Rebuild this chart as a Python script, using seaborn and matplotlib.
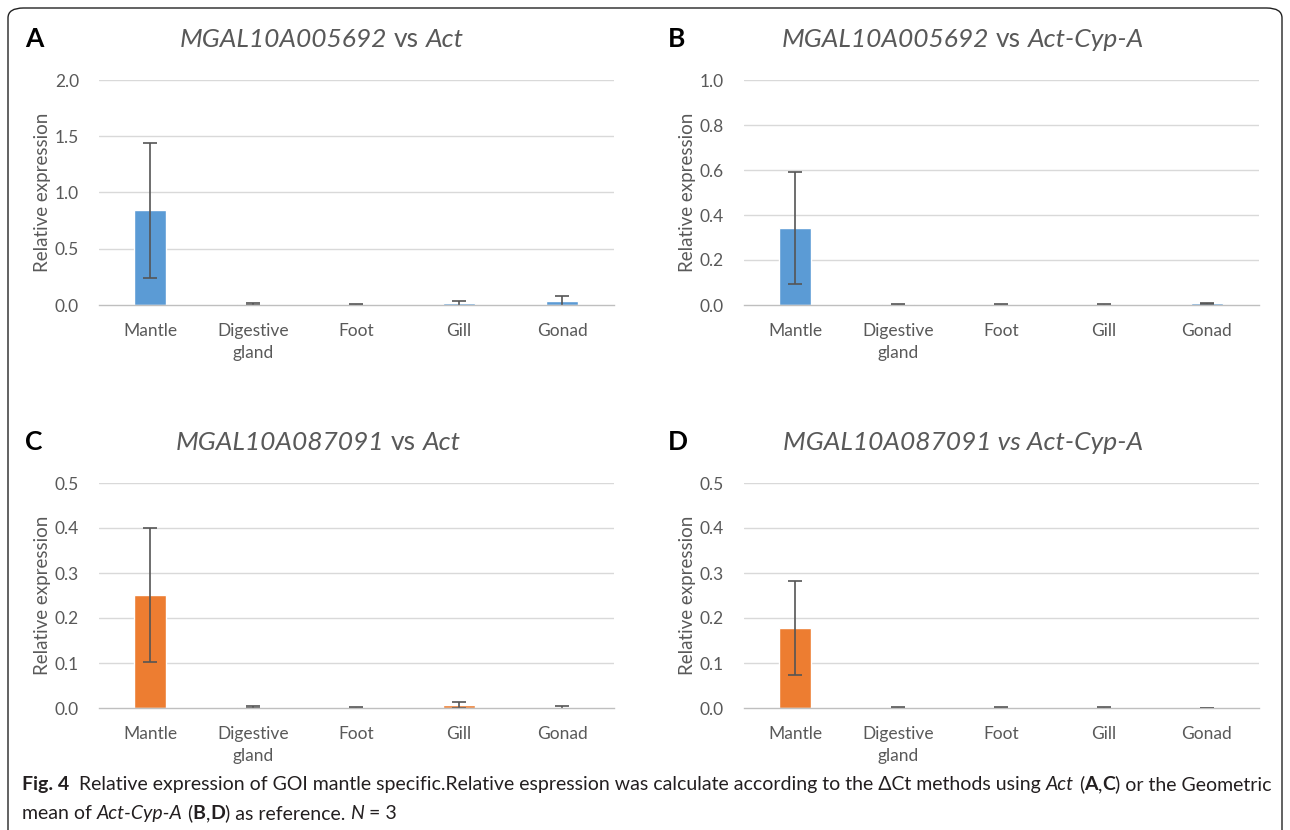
import numpy as np
import pandas as pd
import matplotlib
matplotlib.use("Agg")
import matplotlib.pyplot as plt
from matplotlib import font_manager
from matplotlib.patches import FancyBboxPatch
from matplotlib.transforms import IdentityTransform
import seaborn as sns

# ---------------- data ----------------
tissues = ["Mantle", "Digestive\ngland", "Foot", "Gill", "Gonad"]

a_mean = [0.84, 0.010, 0.003, 0.015, 0.035]
a_err = [0.60, 0.012, 0.006, 0.020, 0.045]

b_mean = [0.343, 0.003, 0.002, 0.001, 0.007]
b_err = [0.250, 0.002, 0.002, 0.002, 0.004]

c_mean = [0.251, 0.002, 0.001, 0.006, 0.001]
c_err = [0.149, 0.003, 0.002, 0.007, 0.003]

d_mean = [0.178, 0.0005, 0.0005, 0.0005, 0.0003]
d_err = [0.105, 0.001, 0.001, 0.001, 0.0006]

a_ticks = [0.0, 0.5, 1.0, 1.5, 2.0]
b_ticks = [0.0, 0.2, 0.4, 0.6, 0.8, 1.0]
cd_ticks = [0.0, 0.1, 0.2, 0.3, 0.4, 0.5]

BLUE = "#5b9bd5"
ORANGE = "#ed7d31"
GRAY_TXT = "#595959"

sns.set_theme(style="white")
avail = {f.name for f in font_manager.fontManager.ttflist}
MAIN_FONT = "Lato" if "Lato" in avail else "DejaVu Sans"
CAP_FONT = "Liberation Sans Narrow" if "Liberation Sans Narrow" in avail else MAIN_FONT
plt.rcParams["font.family"] = [MAIN_FONT, "DejaVu Sans"]

W, H = 1290, 830
fig = plt.figure(figsize=(W / 100, H / 100), dpi=100)
fig.patch.set_facecolor("white")

# rounded frame
frame = FancyBboxPatch((8 / W, -20 / H), (W - 16) / W, (H - 8 + 20) / H,
                       boxstyle="round,pad=0,rounding_size=0.012",
                       transform=fig.transFigure, fill=False,
                       edgecolor="#222222", linewidth=1.0, clip_on=False)
fig.patches.append(frame)


def add_panel(left_px, y0_px, means, errs, ticks, color):
    height_px = 225
    ax = fig.add_axes([left_px / W, (H - y0_px) / H, 515 / W, height_px / H])
    df = pd.DataFrame({"tissue": tissues, "value": means})
    sns.barplot(data=df, x="tissue", y="value", color=color, width=0.31,
                errorbar=None, ax=ax, saturation=1)
    ax.errorbar(np.arange(len(means)), means, yerr=errs, fmt="none",
                ecolor="#555555", elinewidth=1.2, capsize=5, capthick=1.2)
    ax.set_ylim(ticks[0], ticks[-1])
    ax.set_yticks(ticks)
    ax.set_yticklabels([f"{t:.1f}" for t in ticks])
    ax.set_xlim(-0.5, len(means) - 0.5)
    for t in ticks[1:]:
        ax.axhline(t, color="#d9d9d9", lw=1.0, zorder=0)
    for s in ["top", "right", "left"]:
        ax.spines[s].set_visible(False)
    ax.spines["bottom"].set_color("#bfbfbf")
    ax.spines["bottom"].set_linewidth(1.0)
    ax.tick_params(axis="both", length=0, labelsize=12.5, colors=GRAY_TXT, pad=13)
    ax.tick_params(axis="y", pad=14)
    for lab in ax.get_xticklabels():
        lab.set_linespacing(1.45)
    ax.set_xlabel("")
    ax.set_ylabel("Relative expression", fontsize=13.5, color=GRAY_TXT)
    ax.yaxis.set_label_coords(-0.093, 0.5)
    ax.set_facecolor("white")
    return ax


add_panel(98.5, 305, a_mean, a_err, a_ticks, BLUE)
add_panel(743.5, 305, b_mean, b_err, b_ticks, BLUE)
add_panel(98.5, 708, c_mean, c_err, cd_ticks, ORANGE)
add_panel(743.5, 708, d_mean, d_err, cd_ticks, ORANGE)

renderer = fig.canvas.get_renderer()


def rich(x_px, y_px, parts, size, color, family, ha="center"):
    """parts: list of (text, style, weight); drawn in display pixels (y from top)."""
    texts = []
    for s, style, weight in parts:
        t = fig.text(0, 0, s.strip(" "), transform=IdentityTransform(), fontsize=size,
                     color=color, fontstyle=style, fontweight=weight,
                     family=family, va="baseline", ha="left")
        texts.append(t)
    probe1 = fig.text(0, 0, "a a", fontsize=size, family=family, transform=IdentityTransform())
    probe2 = fig.text(0, 0, "aa", fontsize=size, family=family, transform=IdentityTransform())
    sp = probe1.get_window_extent(renderer).width - probe2.get_window_extent(renderer).width
    probe1.remove()
    probe2.remove()
    xs = []
    cur = 0.0
    for (s, _, _), t in zip(parts, texts):
        lead = len(s) - len(s.lstrip(" "))
        trail = len(s) - len(s.rstrip(" "))
        cur += lead * sp
        xs.append(cur)
        w = t.get_window_extent(renderer).width if s.strip(" ") else 0
        cur += w + trail * sp
    total = cur
    start = x_px - total / 2 if ha == "center" else x_px
    for t, xo in zip(texts, xs):
        t.set_position((start + xo, H - y_px))
    return texts


TITLE_SIZE = 19
TCOL = "#595959"
rich(322, 47, [("MGAL10A005692", "italic", "normal"), (" vs ", "normal", "normal"),
               ("Act", "italic", "normal")], TITLE_SIZE, TCOL, MAIN_FONT)
rich(963, 47, [("MGAL10A005692", "italic", "normal"), (" vs ", "normal", "normal"),
               ("Act-Cyp-A", "italic", "normal")], TITLE_SIZE, TCOL, MAIN_FONT)
rich(318, 450, [("MGAL10A087091", "italic", "normal"), (" vs ", "normal", "normal"),
                ("Act", "italic", "normal")], TITLE_SIZE, TCOL, MAIN_FONT)
rich(963, 450, [("MGAL10A087091 vs Act-Cyp-A", "italic", "normal")],
     TITLE_SIZE, TCOL, MAIN_FONT)

for letter, x, y in [("A", 25, 47), ("B", 668, 47), ("C", 25, 450), ("D", 668, 450)]:
    fig.text(x / W, 1 - y / H, letter, fontsize=19, fontweight="bold",
             color="black", va="baseline", ha="left", family=MAIN_FONT)

CAP_SIZE = 14.0
CC = "#231f20"
rich(22, 790, [("Fig. 4", "normal", "bold"),
               ("  Relative expression of GOI mantle specific.Relative espression was calculate according to the \u0394Ct methods using ", "normal", "normal"),
               ("Act", "italic", "normal"), (" (", "normal", "normal"),
               ("A", "normal", "bold"), (",", "normal", "normal"), ("C", "normal", "bold"),
               (") or the Geometric", "normal", "normal")],
     CAP_SIZE, CC, CAP_FONT, ha="left")
rich(22, 819, [("mean of ", "normal", "normal"), ("Act-Cyp-A", "italic", "normal"),
               (" (", "normal", "normal"), ("B", "normal", "bold"), (",", "normal", "normal"),
               ("D", "normal", "bold"), (") as reference. ", "normal", "normal"),
               ("N", "italic", "normal"), (" = 3", "normal", "normal")],
     CAP_SIZE, CC, CAP_FONT, ha="left")

fig.savefig("out.png", dpi=100, facecolor="white")
